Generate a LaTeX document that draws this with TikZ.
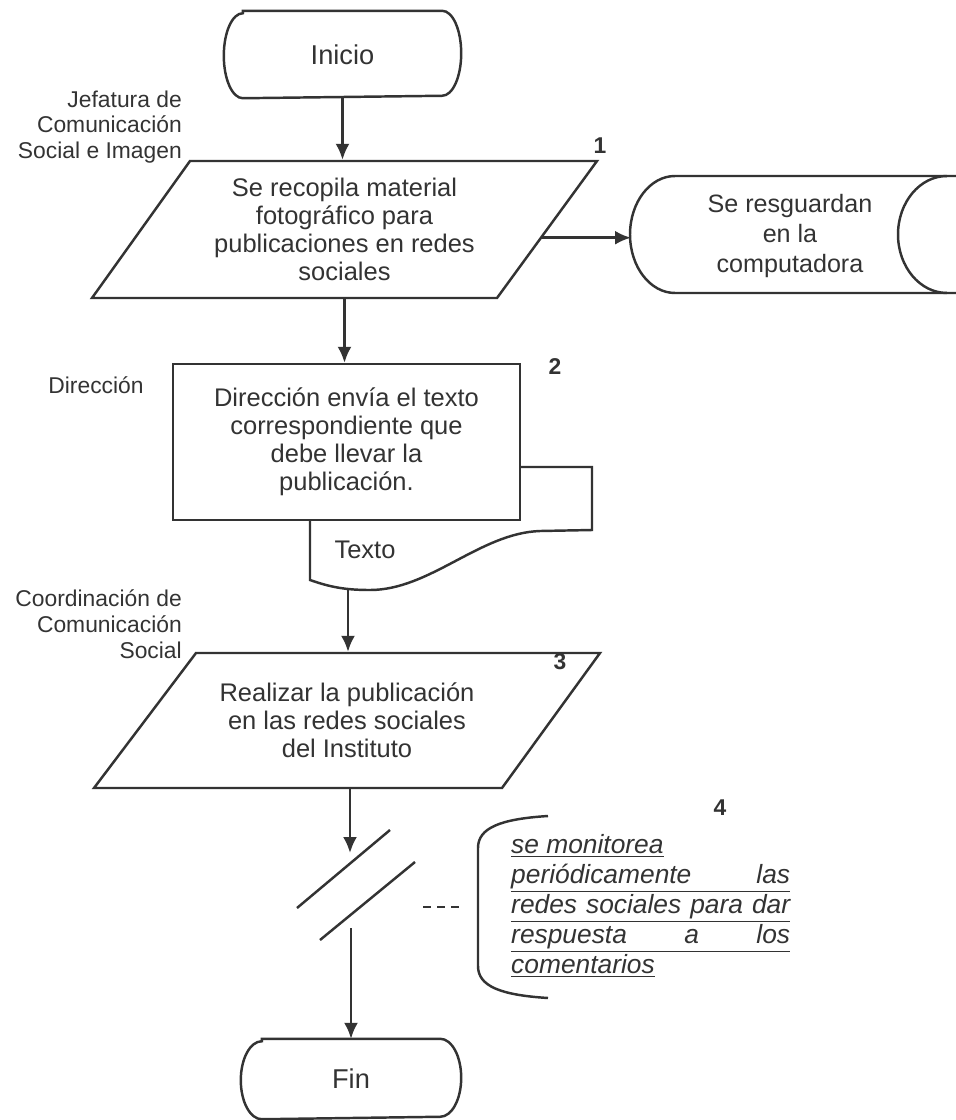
\documentclass[tikz,border=0pt]{standalone}
\usepackage{fontspec}
\setmainfont{Liberation Sans}
\usetikzlibrary{arrows.meta,calc}
\definecolor{ink}{HTML}{333333}
\newcommand{\boxfont}{\fontsize{14.5}{15.9}\selectfont}

\begin{document}
\begin{tikzpicture}[x=0.02cm, y=-0.02cm, line width=1.4pt, >={Latex[length=3.2mm,width=2.8mm]}, color=ink,
  term/.style={inner sep=0pt, font=\fontsize{15.5}{17}\selectfont},
  iotext/.style={inner sep=0pt, align=center, font=\boxfont},
  proc/.style={rectangle, draw, fill=white, inner sep=0pt, align=center, font=\boxfont,
    minimum width=6.94cm, minimum height=3.12cm},
  lbl/.style={align=right, anchor=east, inner sep=0pt, font=\fontsize{13}{14.7}\selectfont},
  num/.style={inner sep=0pt, font=\fontsize{13}{14}\selectfont\bfseries}]

\useasboundingbox (0,0) rectangle (956,1120);
\clip (0,0) rectangle (956,1120);

% inicio
\node[term, minimum width=4.7cm, minimum height=1.7cm] (ini) at (342.5,54.5) {Inicio};
\draw ([xshift=0.38cm]ini.north west) -- ([xshift=-0.38cm]ini.north east)
  arc[start angle=90, end angle=-90, x radius=0.38cm, y radius=0.85cm]
  -- ([xshift=0.38cm]ini.south west)
  arc[start angle=270, end angle=90, x radius=0.38cm, y radius=0.85cm] -- cycle;

% step 1
\node[lbl] (jef) at (183,127) {Jefatura de\\Comunicación\\Social e Imagen};
\draw[fill=white] (190,161) -- (597,161) -- (497,298) -- (92,298) -- cycle;
\node[iotext, minimum height=2.74cm] (p1) at (344.5,229.5) {Se recopila material\\fotográfico para\\publicaciones en redes\\sociales};
\node[num] (n1) at (600,146) {1};
\draw[->] (ini.south) -- (ini.south |- p1.north);

% stored data
\node[align=center, inner sep=0pt, font=\fontsize{14.3}{17}\selectfont] (sd) at (790,236) {Se resguardan\\en la\\computadora};
\draw (1000,176) -- (675,176) arc[start angle=90, end angle=270, x radius=0.9cm, y radius=1.17cm] -- (1000,293);
\draw (947,176) arc[start angle=90, end angle=270, x radius=0.98cm, y radius=1.17cm];
\coordinate (sdl) at (631,238);
\coordinate (p1r) at ($(597,161)!0.56!(497,298)$);
\draw[->] (p1r) -- (p1r -| sdl);

% step 2
\node[lbl, anchor=center, align=center] (dir) at (96,385) {Dirección};
\draw[fill=white] (310,520) -- (310,580) .. controls (330,587) and (345,590) .. (370,590)
  .. controls (430,590) and (480,533) .. (540,531) -- (592,530) -- (592,467) -- (520,467);
\node[proc] (r2) at (346.5,442) {Dirección envía el texto\\correspondiente que\\debe llevar la\\publicación.};
\node[font=\boxfont, inner sep=0pt] (txt) at (365,550) {Texto};
\node[num] (n2) at (555,367) {2};
\coordinate (docb) at (348,589);
\draw[->] (p1.south) -- (p1.south |- r2.north);

% step 3
\node[lbl] (coord) at (183,624) {Coordinación de\\Comunicación\\Social};
\draw[fill=white] (196,653) -- (600,653) -- (502,788) -- (94,788) -- cycle;
\node[iotext, minimum height=2.7cm] (p3) at (347,720.5) {Realizar la publicación\\en las redes sociales\\del Instituto};
\node[num] (n3) at (560,662) {3};
\draw[->] (docb) -- (docb |- p3.north);

% break
\coordinate (bk1) at (350,853);
\coordinate (bk2) at (351,928);
\draw[->] (p3.south -| bk1) -- (bk1);
\draw (297,908) -- (390,830);
\draw (320,940) -- (415,862);

% step 4
\node[num] (n4) at (720,808) {4};
\draw (548,816) .. controls (500,819) and (478,828) .. (478,848) -- (478,966)
  .. controls (478,986) and (500,995) .. (548,998);
\coordinate (dsa) at (423,907);
\coordinate (dsb) at (460,907);
\draw[line width=1pt, dash pattern=on 0.16cm off 0.12cm] (dsa) -- (dsb);
\node[anchor=west, align=left, inner sep=0pt, font=\fontsize{15}{17}\selectfont\itshape] (ann) at (510,906)
  {\underline{se monitorea}\\
   \underline{\makebox[5.58cm][s]{periódicamente las}}\\
   \underline{\makebox[5.58cm][s]{redes sociales para dar}}\\
   \underline{\makebox[5.58cm][s]{respuesta a los}}\\
   \underline{comentarios}};

% fin
\node[term, minimum width=4.36cm, minimum height=1.56cm] (fin) at (351,1079) {Fin};
\draw ([xshift=0.42cm]fin.north west) -- ([xshift=-0.42cm]fin.north east)
  arc[start angle=90, end angle=-90, x radius=0.42cm, y radius=0.78cm]
  -- ([xshift=0.42cm]fin.south west)
  arc[start angle=270, end angle=90, x radius=0.42cm, y radius=0.78cm] -- cycle;
\draw[->] (bk2) -- (fin.north);

\end{tikzpicture}
\end{document}
